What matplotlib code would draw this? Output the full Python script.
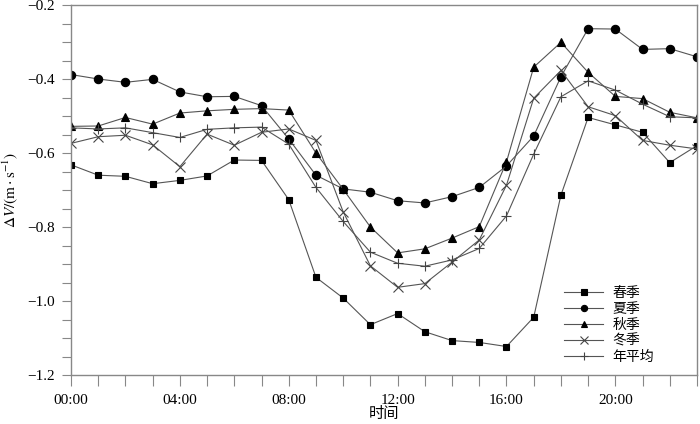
import numpy as np
import matplotlib.pyplot as plt
from matplotlib.ticker import MultipleLocator, FixedLocator

plt.rcParams['font.family'] = ['Liberation Serif', 'Noto Sans CJK SC']
plt.rcParams['mathtext.fontset'] = 'stix'

hours = np.arange(24)
xtick_pos = [0, 4, 8, 12, 16, 20]
xtick_labels = ['00:00', '04:00', '08:00', '12:00', '16:00', '20:00']

spring = [-0.632, -0.660, -0.663, -0.683, -0.674, -0.662, -0.619, -0.620,
          -0.726, -0.936, -0.992, -1.064, -1.034, -1.083, -1.107, -1.112,
          -1.123, -1.044, -0.714, -0.504, -0.524, -0.544, -0.626, -0.580]
summer = [-0.388, -0.400, -0.409, -0.401, -0.435, -0.448, -0.447, -0.472,
          -0.562, -0.660, -0.697, -0.706, -0.729, -0.735, -0.718, -0.693,
          -0.635, -0.554, -0.394, -0.264, -0.265, -0.320, -0.318, -0.340]
autumn = [-0.528, -0.527, -0.504, -0.522, -0.492, -0.486, -0.482, -0.480,
          -0.484, -0.600, -0.698, -0.800, -0.870, -0.859, -0.830, -0.799,
          -0.624, -0.368, -0.301, -0.382, -0.447, -0.453, -0.490, -0.505]
winter = [-0.574, -0.556, -0.552, -0.578, -0.637, -0.549, -0.579, -0.544,
          -0.535, -0.566, -0.759, -0.905, -0.963, -0.953, -0.895, -0.835,
          -0.687, -0.452, -0.377, -0.475, -0.499, -0.566, -0.579, -0.589]
annual = [-0.532, -0.535, -0.532, -0.545, -0.558, -0.536, -0.532, -0.530,
          -0.576, -0.693, -0.785, -0.868, -0.898, -0.906, -0.889, -0.858,
          -0.770, -0.603, -0.448, -0.405, -0.430, -0.468, -0.502, -0.505]

series = [
    (spring, '春季', 's', 5, 'black'),
    (summer, '夏季', 'o', 6, 'black'),
    (autumn, '秋季', '^', 6, 'black'),
    (winter, '冬季', 'x', 7, '#444444'),
    (annual, '年平均', '+', 7, '#444444'),
]

line_col = '#555555'
axis_col = '#888888'

fig = plt.figure(figsize=(7, 4.24), dpi=100)
ax = fig.add_axes([71 / 700, 49 / 424, 626 / 700, 370 / 424])

for vals, lab, mk, ms, mc in series:
    ax.plot(hours, vals, color=line_col, lw=0.8, marker=mk, markersize=ms,
            markerfacecolor=mc, markeredgecolor=mc, markeredgewidth=0.8,
            label=lab)

ax.set_xlim(0, 23)
ax.set_ylim(-1.2, -0.2)
ax.xaxis.set_major_locator(FixedLocator(xtick_pos))
ax.set_xticklabels(xtick_labels)
ax.xaxis.set_minor_locator(MultipleLocator(1))
ax.yaxis.set_major_locator(MultipleLocator(0.2))
ax.yaxis.set_minor_locator(MultipleLocator(0.05))
ax.yaxis.set_major_formatter(plt.FuncFormatter(lambda v, p: f'{v:.1f}'.replace('-', '\u2212')))

for s in ax.spines.values():
    s.set_color(axis_col)
    s.set_linewidth(1.0)
ax.tick_params(axis='x', which='both', direction='out', length=8, width=0.8,
               color=axis_col, labelsize=11, pad=6)
ax.tick_params(axis='y', which='both', direction='out', length=6.5, width=0.8,
               color=axis_col, labelsize=11, pad=5)

ax.set_xlabel('时间', fontsize=11, labelpad=0)
ax.set_ylabel(r'$\Delta V/(\mathrm{m}\cdot\mathrm{s}^{-1})$', fontsize=11, labelpad=5)

leg = ax.legend(loc='lower right', bbox_to_anchor=(0.951, -0.003), frameon=False,
                fontsize=10, handlelength=2.8, labelspacing=0.2,
                handletextpad=0.65, markerscale=0.75)
for h in leg.legend_handles:
    h.set_color(line_col)

fig.savefig('out.png', dpi=100)
